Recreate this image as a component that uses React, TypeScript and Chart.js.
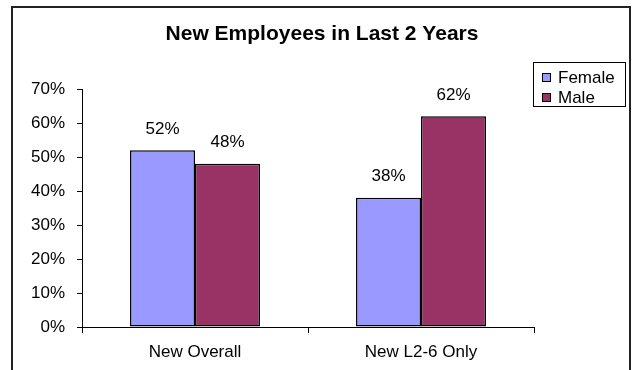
import React, { useEffect, useRef } from "react";
import { Chart, registerables } from "chart.js";

Chart.register(...registerables);

const categories = ["New Overall", "New L2-6 Only"];
const femaleValues = [52, 38];
const maleValues = [48, 62];
const seriesNames = ["Female", "Male"];
const seriesColors = ["#9999FF", "#993366"];
const titleText = "New Employees in Last 2 Years";
const FONT = "'Liberation Sans', Arial, sans-serif";

const decorPlugin = {
  id: "decor",
  afterDraw(chart: any) {
    const ctx = chart.ctx as CanvasRenderingContext2D;
    ctx.save();
    // outer frame
    ctx.strokeStyle = "#222";
    ctx.lineWidth = 2;
    ctx.beginPath();
    ctx.moveTo(12, 380);
    ctx.lineTo(12, 7);
    ctx.lineTo(630, 7);
    ctx.lineTo(630, 380);
    ctx.stroke();

    // title
    ctx.fillStyle = "#000";
    ctx.font = `bold 21px ${FONT}`;
    ctx.textAlign = "center";
    ctx.textBaseline = "middle";
    ctx.fillText(titleText, 322, 34);

    // data labels
    ctx.font = `17px ${FONT}`;
    ctx.textBaseline = "middle";
    chart.data.datasets.forEach((ds: any, di: number) => {
      const meta = chart.getDatasetMeta(di);
      meta.data.forEach((bar: any, i: number) => {
        ctx.fillText(ds.data[i] + "%", bar.x, bar.y - 21);
      });
    });

    // legend
    ctx.strokeStyle = "#000";
    ctx.lineWidth = 1;
    ctx.strokeRect(533.5, 62.5, 92, 44);
    ctx.textAlign = "left";
    ctx.font = `17px ${FONT}`;
    seriesNames.forEach((name, i) => {
      const cy = 77 + i * 20;
      ctx.fillStyle = seriesColors[i];
      ctx.fillRect(542, cy - 4, 8, 8);
      ctx.strokeStyle = "#000";
      ctx.strokeRect(542.5, cy - 3.5, 8, 8);
      ctx.fillStyle = "#000";
      ctx.fillText(name, 558, cy + 1);
    });
    ctx.restore();
  },
};

export default function App() {
  const ref = useRef<HTMLCanvasElement>(null);
  useEffect(() => {
    document.body.style.margin = "0";
    const chart = new Chart(ref.current!, {
      type: "bar",
      data: {
        labels: categories,
        datasets: [
          {
            label: seriesNames[0],
            data: femaleValues,
            backgroundColor: seriesColors[0],
            borderColor: "#000",
            borderWidth: 1.5,
            borderSkipped: false,
          },
          {
            label: seriesNames[1],
            data: maleValues,
            backgroundColor: seriesColors[1],
            borderColor: "#000",
            borderWidth: 1.5,
            borderSkipped: false,
          },
        ],
      },
      options: {
        responsive: false,
        animation: false,
        devicePixelRatio: 1,
        layout: { padding: { top: 89, right: 102, left: 0, bottom: 0 } },
        plugins: {
          legend: { display: false },
          title: { display: false },
          tooltip: { enabled: false },
        },
        datasets: { bar: { categoryPercentage: 0.575, barPercentage: 1 } },
        scales: {
          x: {
            grid: {
              offset: true,
              drawOnChartArea: false,
              drawTicks: true,
              tickLength: 6,
              color: "#000",
            },
            border: { display: true, color: "#000", width: 1 },
            ticks: {
              color: "#000",
              font: { family: FONT, size: 17 },
              padding: 9,
              maxRotation: 0,
            },
            afterFit(scale: any) {
              scale.height = 43;
            },
          },
          y: {
            min: 0,
            max: 70,
            grid: {
              drawOnChartArea: false,
              drawTicks: true,
              tickLength: 5,
              color: "#000",
            },
            border: { display: true, color: "#000", width: 1 },
            ticks: {
              stepSize: 10,
              color: "#000",
              font: { family: FONT, size: 17 },
              padding: 12,
              callback: (v: any) => v + "%",
            },
            afterFit(scale: any) {
              scale.width = 82;
            },
          },
        },
      },
      plugins: [decorPlugin],
    });
    return () => chart.destroy();
  }, []);
  return (
    <div style={{ width: 636, height: 370 }}>
      <canvas ref={ref} width={636} height={370} />
    </div>
  );
}
